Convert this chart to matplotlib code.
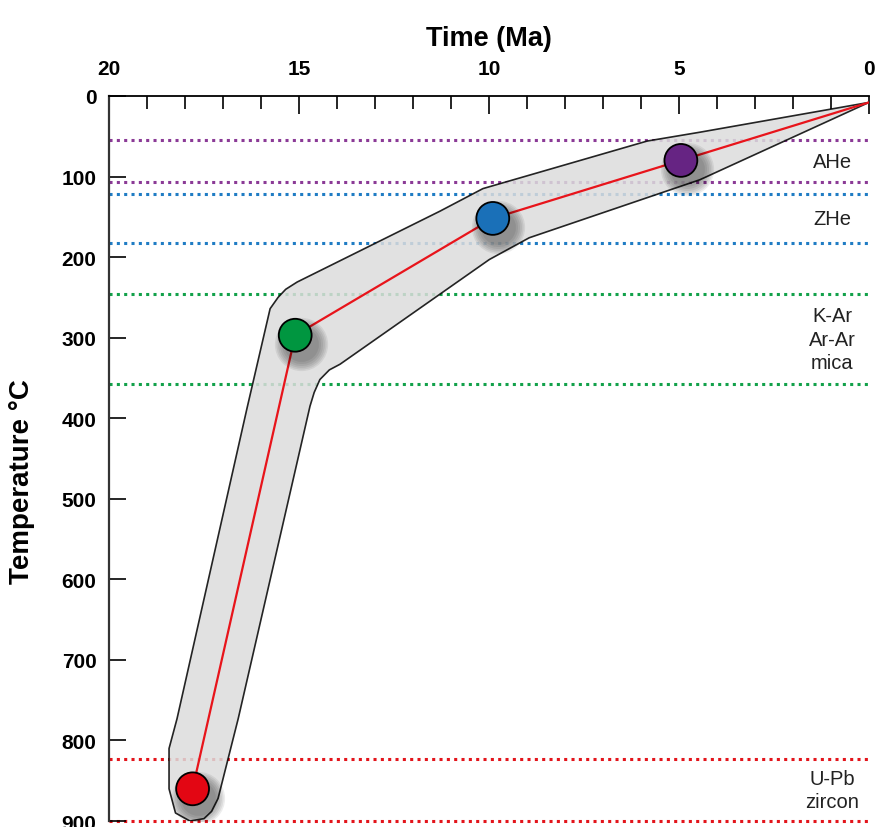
import numpy as np
import matplotlib.pyplot as plt

plt.rcParams['font.family'] = ['Liberation Sans', 'DejaVu Sans']

# thermochronology samples (age in Ma, closure temperature in C)
ages = [17.8, 15.1, 9.9, 4.95]
temps = [860, 297, 152, 80]
age_err = [0.4, 0.45, 0.45, 0.45]
point_colors = ['#e30613', '#009640', '#1a70b8', '#662483']

# cooling path incl. present day surface
path_t = [17.8, 15.1, 9.9, 4.95, 0.0]
path_T = [860, 297, 152, 80, 8]

# envelope around the cooling path
env_upper_t = [0.0, 4.45, 5.84, 10.16, 11.29, 15.05, 15.35, 15.55, 15.76, 16.37,
               18.21, 18.42, 18.42, 18.25, 17.87]
env_upper_T = [8, 45, 56, 115, 143, 231, 240, 250, 264, 388,
               773, 810, 860, 890, 900]
env_lower_t = [17.5, 17.3, 17.13, 16.6, 14.71, 14.6, 14.45, 14.2, 13.92, 9.99,
               8.94, 4.45, 0.0]
env_lower_T = [897, 888, 872, 773, 385, 368, 352, 340, 333, 203,
               176, 104, 8]

# closure temperature windows
band_labels = ['AHe', 'ZHe', 'K-Ar\nAr-Ar\nmica', 'U-Pb\nzircon']
band_lo = [55, 122, 246, 823]
band_hi = [107, 182, 358, 900]
band_colors = ['#8b3a96', '#1f7cc4', '#12a14a', '#e3141b']

fig = plt.figure(figsize=(8.79, 8.28), dpi=100)
ax = fig.add_axes([0.124, 0.0072, 0.8646, 0.8757])

for lo, hi, c, lab in zip(band_lo, band_hi, band_colors, band_labels):
    ax.axhline(lo, color=c, ls=(0, (1, 1.4)), lw=2.2, zorder=1, clip_on=False)
    ax.axhline(hi, color=c, ls=(0, (1, 1.4)), lw=2.2, zorder=1, clip_on=False)
    ax.text(0.97, (lo + hi) / 2, lab, ha='center', va='center', fontsize=14.5,
            linespacing=1.3, color='#222222')

env_t = env_upper_t + env_lower_t
env_T = env_upper_T + env_lower_T
ax.fill(env_t, env_T, facecolor='#dcdcdc', alpha=0.85, edgecolor='black',
        lw=1.2, joinstyle='round', zorder=2)

ax.plot(path_t, path_T, color='#e8141b', lw=1.6, zorder=3)

# soft shadow below each marker
for i in range(6):
    ax.scatter(np.array(ages) - 0.15, np.array(temps) + 11, s=620 + i * 170,
               color='black', alpha=0.07, lw=0, zorder=3.5)

ax.errorbar(ages, temps, xerr=age_err, fmt='none', ecolor='#222222',
            elinewidth=1.2, capsize=0, zorder=4)
ax.scatter(ages, temps, s=560, c=point_colors, edgecolors='black',
           linewidths=1.3, zorder=5)

ax.set_xlim(20, 0)
ax.set_ylim(900, 0)
ax.xaxis.set_ticks_position('top')
ax.xaxis.set_label_position('top')
ax.set_xticks([20, 15, 10, 5, 0])
ax.set_xticks(np.arange(0, 21, 1), minor=True)
ax.set_yticks(np.arange(0, 901, 100))
ax.tick_params(axis='x', which='major', direction='in', length=13, width=1.2,
               pad=13, labelsize=15)
ax.tick_params(axis='x', which='minor', direction='in', length=9, width=1.2)
ax.tick_params(axis='y', direction='in', length=12, width=1.2, pad=9,
               labelsize=15)
for lab in ax.get_xticklabels() + ax.get_yticklabels():
    lab.set_fontweight('bold')

ax.spines['right'].set_visible(False)
ax.spines['bottom'].set_visible(False)
ax.spines['top'].set_linewidth(1.3)
ax.spines['left'].set_linewidth(1.6)
ax.spines['left'].set_color('#333333')

ax.set_xlabel('Time (Ma)', fontsize=19.5, fontweight='bold', labelpad=10)
ax.set_ylabel('Temperature °C', fontsize=20, fontweight='bold',
              va='center', ha='center')
ax.yaxis.set_label_coords(-0.114, 0.47)

fig.savefig('out.png', dpi=100)
